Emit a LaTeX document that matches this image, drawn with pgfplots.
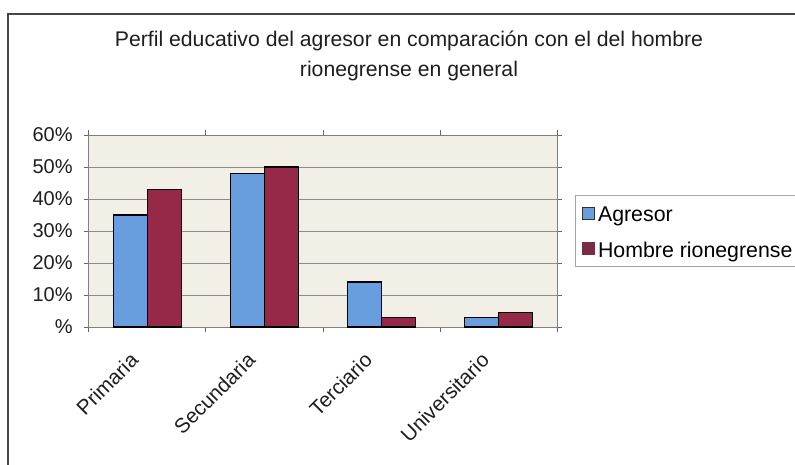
\documentclass[border=0pt]{standalone}
\usepackage{fontspec}
\setmainfont{Liberation Sans}
\usepackage{pgfplots}
\pgfplotsset{compat=1.18}
\definecolor{barblue}{RGB}{105,158,222}
\definecolor{barred}{RGB}{150,40,72}
\definecolor{plotbg}{RGB}{242,240,230}
\definecolor{gridgray}{RGB}{140,140,140}
\definecolor{framegray}{RGB}{70,70,70}
\definecolor{txt}{RGB}{30,30,30}
\definecolor{legred}{RGB}{120,45,70}
\begin{document}
\begin{tikzpicture}
\useasboundingbox (0,0) rectangle (596.25pt,348pt);
\fill[white] (0,0) rectangle (596.25pt,348pt);
\draw[framegray, line width=1.5pt] (6pt,-10pt) -- (6pt,337.5pt) -- (610pt,337.5pt);
\node[anchor=base, inner sep=0pt, text=txt, font=\fontsize{15.9}{19}\selectfont] at (306.75pt,313pt) {Perfil educativo del agresor en comparación con el del hombre};
\node[anchor=base, inner sep=0pt, text=txt, font=\fontsize{15.9}{19}\selectfont] at (306.75pt,290.6pt) {rionegrense en general};
\begin{axis}[
  at={(66.75pt,102.75pt)}, anchor=south west,
  scale only axis, width=351pt, height=144pt,
  xmin=-0.5, xmax=3.5, ymin=0, ymax=60,
  axis background/.style={fill=plotbg},
  ytick={0,10,20,30,40,50,60},
  yticklabels={\%,10\%,20\%,30\%,40\%,50\%,60\%},
  xtick={0,1,2,3},
  xticklabels={Primaria,Secundaria,Terciario,Universitario},
  minor xtick={-0.5,0.5,1.5,2.5,3.5},
  tick align=outside,
  major tick length=3.75pt,
  minor tick length=3.75pt,
  major x tick style={draw=none},
  tick style={gray!80!black, line width=0.75pt},
  ymajorgrids,
  grid style={gridgray, line width=0.75pt},
  axis line style={gray, line width=0.75pt},
  yticklabel style={font=\fontsize{15}{18}\selectfont, text=txt, xshift=-5pt},
  xticklabel style={font=\fontsize{15.5}{18}\selectfont, text=txt, rotate=45, anchor=north east, xshift=-16.5pt, yshift=3.2pt},
  legend style={at={(1.0385,0.6875)}, anchor=north west, draw=gray!70, line width=0.75pt,
    font=\fontsize{16}{19}\selectfont, inner xsep=5pt, inner ysep=3.5pt, row sep=7.3pt,
    nodes={inner sep=2pt, text height=14pt, text depth=1.5pt}},
  legend cell align=left,
  ybar=0pt, bar width=0.29,
]
\addplot[fill=barblue, draw=black, line width=1.1pt, bar shift=-0.145,
  legend image code/.code={\draw[fill=barblue, draw=black!80, line width=0.9pt] (0pt,-4.5pt) rectangle (9pt,4.5pt);}]
  coordinates {(0,35) (1,48) (2,14) (3,3)};
\addlegendentry{Agresor}
\addplot[fill=barred, draw=black, line width=1.1pt, bar shift=0.145,
  legend image code/.code={\path[fill=legred, draw=none] (-0.4pt,-4.9pt) rectangle (9.4pt,4.9pt);}]
  coordinates {(0,43) (1,50) (2,3) (3,4.5)};
\addlegendentry{Hombre rionegrense}
\end{axis}
\end{tikzpicture}
\end{document}
